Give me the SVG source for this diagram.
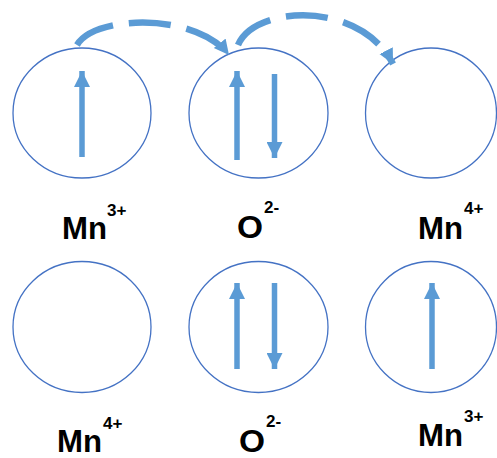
<svg xmlns="http://www.w3.org/2000/svg" width="497" height="458" viewBox="0 0 497 458">
<style>
.orb{fill:none;stroke:#4472C4;stroke-width:1.3}
.spin{stroke:#5B9BD5;stroke-width:5.5;fill:none}
.hop{stroke:#5B9BD5;stroke-width:6.5;fill:none;stroke-dasharray:42 16}
.lbl{font-family:"Liberation Sans",Arial,sans-serif;font-weight:bold;font-size:31px;fill:#000}
.sup{font-family:"Liberation Sans",Arial,sans-serif;font-weight:bold;font-size:17px;fill:#000}
</style>
<defs>
<marker id="spinHead" markerUnits="userSpaceOnUse" markerWidth="16" markerHeight="16" refX="16" refY="8" orient="auto"><path d="M0,0 L16,8 L0,16 z" fill="#5B9BD5"/></marker>
<marker id="hopHead" markerUnits="userSpaceOnUse" markerWidth="16" markerHeight="16" refX="15" refY="7.5" orient="auto"><path d="M0,0 L15,7.5 L0,15 z" fill="#5B9BD5"/></marker>
</defs>
<g id="mn3-top">
<ellipse class="orb" cx="82" cy="113" rx="69" ry="65"/>
<line class="spin" x1="82" y1="157" x2="82" y2="71" marker-end="url(#spinHead)"/>
<text class="lbl" x="62" y="239" textLength="45" lengthAdjust="spacingAndGlyphs">Mn</text>
<text class="sup" x="107" y="216">3+</text>
</g>
<g id="o2-top">
<ellipse class="orb" cx="258.5" cy="113" rx="69.5" ry="65"/>
<line class="spin" x1="237" y1="160" x2="237" y2="71" marker-end="url(#spinHead)"/>
<line class="spin" x1="274.5" y1="74" x2="274.5" y2="158" marker-end="url(#spinHead)"/>
<text class="lbl" x="237" y="238" textLength="26" lengthAdjust="spacingAndGlyphs">O</text>
<text class="sup" x="264" y="213">2-</text>
</g>
<g id="mn4-top">
<ellipse class="orb" cx="431" cy="113" rx="65.5" ry="65"/>
<text class="lbl" x="418" y="239" textLength="45" lengthAdjust="spacingAndGlyphs">Mn</text>
<text class="sup" x="464" y="214">4+</text>
</g>
<g id="mn4-bottom">
<ellipse class="orb" cx="82" cy="327" rx="69" ry="65.5"/>
<text class="lbl" x="57" y="452" textLength="45" lengthAdjust="spacingAndGlyphs">Mn</text>
<text class="sup" x="103" y="429">4+</text>
</g>
<g id="o2-bottom">
<ellipse class="orb" cx="258.5" cy="327" rx="69.5" ry="65.5"/>
<line class="spin" x1="237" y1="369" x2="237" y2="283" marker-end="url(#spinHead)"/>
<line class="spin" x1="274.5" y1="283" x2="274.5" y2="369" marker-end="url(#spinHead)"/>
<text class="lbl" x="239" y="452" textLength="26" lengthAdjust="spacingAndGlyphs">O</text>
<text class="sup" x="266" y="427">2-</text>
</g>
<g id="mn3-bottom">
<ellipse class="orb" cx="431" cy="327" rx="65.5" ry="65.5"/>
<line class="spin" x1="432" y1="369" x2="432" y2="283" marker-end="url(#spinHead)"/>
<text class="lbl" x="418" y="446" textLength="45" lengthAdjust="spacingAndGlyphs">Mn</text>
<text class="sup" x="464" y="422">3+</text>
</g>
<g id="connectors">
<path class="hop" d="M77,45 C95,15 195,12 229,55" marker-end="url(#hopHead)"/>
<path class="hop" d="M238,45 C255,5 360,0 393,64" marker-end="url(#hopHead)"/>
</g>
</svg>
